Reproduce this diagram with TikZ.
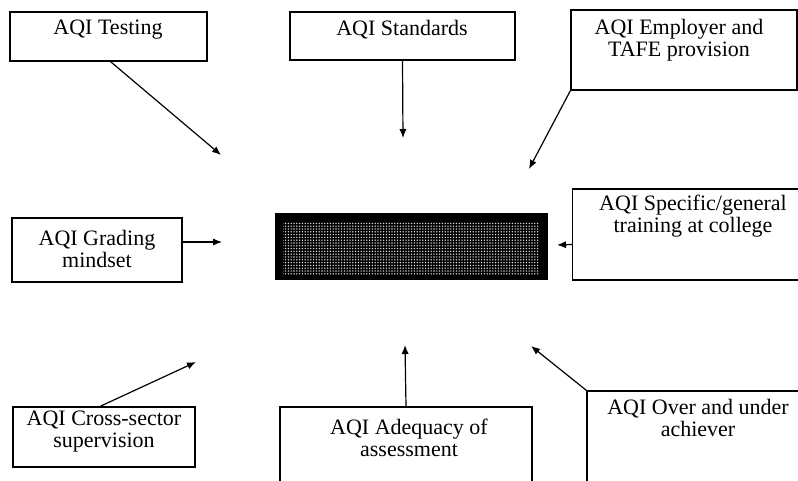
\documentclass[tikz,border=0pt]{standalone}
\usepackage{fontspec}
\setmainfont{Liberation Serif}
\usetikzlibrary{arrows.meta,patterns.meta}
\begin{document}
\begin{tikzpicture}[x=0.5pt,y=-0.5pt,
  boxshape/.style={draw=black,line width=0.6pt,rectangle,inner sep=0pt},
  txt/.style={align=center,inner sep=0pt,font=\fontsize{11}{11}\selectfont},
  conn/.style={line width=0.6pt,-{Latex[length=4.5pt,width=3.6pt]}}]
\useasboundingbox (0,0) rectangle (798,481);
\clip (0,0) rectangle (798,481);
% boxes
\node[boxshape,minimum width=98.5pt,minimum height=24.5pt] (test) at (108.5,36.5) {};
\node[boxshape,minimum width=112.5pt,minimum height=24pt] (stand) at (402.5,36) {};
\node[boxshape,minimum width=113pt,minimum height=40pt] (empl) at (684,50) {};
\node[boxshape,minimum width=119.5pt,minimum height=45.5pt] (spec) at (692,234.5) {};
\node[boxshape,minimum width=85pt,minimum height=32pt] (grad) at (97,250) {};
\node[boxshape,minimum width=91pt,minimum height=30pt] (cross) at (104,437) {};
\node[boxshape,minimum width=126pt,minimum height=50pt] (adeq) at (406,457) {};
\node[boxshape,minimum width=111pt,minimum height=55pt] (over) at (698,446) {};
% central box
\node[rectangle,fill=black,inner sep=0pt,minimum width=136.5pt,minimum height=33.5pt] (cent) at (411.5,246.5) {};
\fill[pattern={Dots[distance=1.4pt,radius=0.38pt]},pattern color=white!85!black] (283,222) rectangle (539,274);
% texts
\node[txt] (ttest) at (108,30) {AQI Testing};
\node[txt] (tstand) at (402,30) {AQI Standards};
\node[txt] (templ) at (679,40) {AQI Employer and\\TAFE provision};
\node[txt] (tspec) at (693,216) {AQI Specific/general\\training at college};
\node[txt] (tgrad) at (97,249) {AQI Grading\\mindset};
\node[txt] (tcross) at (104,432) {AQI Cross-sector\\supervision};
\node[txt] (tadeq) at (409,438) {AQI Adequacy of\\assessment};
\node[txt] (tover) at (698,418) {AQI Over and under\\achiever};
% arrow tips
\coordinate (pT) at (221,155);
\coordinate (pS) at (403,138);
\coordinate (pE) at (529,169);
\coordinate (pSp) at (557,245);
\coordinate (pG) at (222,242);
\coordinate (pC) at (196,362);
\coordinate (pA) at (405,345);
\coordinate (pO) at (531,346);
% connectors
\draw[conn] ([xshift=1pt]test.south) -- (pT);
\draw[conn] (stand.south) -- (pS);
\draw[conn] (empl.south west) -- (pE);
\draw[conn] ([yshift=-5pt]spec.west) -- (pSp);
\draw[conn] ([yshift=4pt]grad.east) -- (pG);
\draw[conn] ([xshift=-2pt]cross.north) -- (pC);
\draw[conn] (adeq.north) -- (pA);
\draw[conn] (over.north west) -- (pO);
\end{tikzpicture}
\end{document}
